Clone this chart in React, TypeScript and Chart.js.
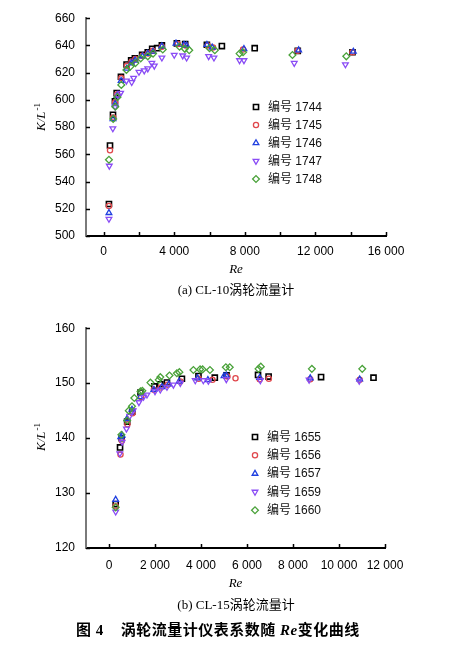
import React, { useEffect, useRef } from 'react';
import { Chart, registerables } from 'chart.js';
import { drawPoint } from 'chart.js/helpers';

Chart.register(...registerables);

// ---------------- (a) CL-10 turbine flow meter ----------------
const namesA = ['编号 1744', '编号 1745', '编号 1746', '编号 1747', '编号 1748'];

const reA1744 = [300, 360, 530, 640, 740, 980, 1300, 1560, 1770, 2180, 2500, 2750, 3030, 3300, 4150, 4620, 5850, 6700, 8560, 11000, 14100];
const kA1744 = [523.5, 566.5, 589, 599, 605, 617, 626, 629, 630.5, 633, 635, 637.5, 638, 640, 641.5, 641, 640.5, 639.5, 638, 636, 635];

const reA1745 = [300, 360, 540, 650, 760, 1000, 1320, 1580, 1800, 2200, 2520, 2780, 3300, 4200, 4650, 5900, 6200, 7900, 11000, 14100];
const kA1745 = [522, 563, 587, 598, 604, 616, 625, 628, 630, 632.5, 634, 636, 639, 641, 640, 640, 638.5, 637, 636, 635];

const reA1746 = [300, 530, 650, 760, 990, 1310, 1570, 1780, 2200, 2500, 2800, 3300, 4100, 4550, 4700, 5850, 6150, 7950, 11050, 14150];
const kA1746 = [517, 586, 597, 603, 614, 623, 627, 629, 632, 634, 635.5, 639.5, 641.5, 640.5, 640, 640.5, 638.5, 637.5, 636.5, 635.5];

const reA1747 = [300, 320, 520, 650, 820, 960, 1290, 1590, 1700, 2000, 2300, 2500, 2730, 2870, 3300, 4000, 4480, 4700, 5950, 6250, 7700, 7950, 10800, 13700];
const kA1747 = [512.5, 551.5, 579, 595, 603, 605, 614, 613, 616, 620.5, 621.5, 623, 627, 625, 631, 633, 632.5, 631, 632, 631, 629, 629, 627, 626];

const reA1748 = [300, 540, 660, 780, 1000, 1290, 1520, 1800, 2100, 2500, 2800, 3350, 4300, 4600, 4850, 6000, 6300, 7700, 7900, 10700, 13750];
const kA1748 = [556, 586, 595, 602, 611, 622, 624.5, 627, 630.5, 632, 634, 637, 639, 637.5, 636.5, 638, 636.5, 634, 635, 633, 632];

const xTicksA = [0, 2000, 4000, 6000, 8000, 10000, 12000, 14000, 16000];
const xLabelsA = [0, 4000, 8000, 12000, 16000];
const yTicksA = [500, 520, 540, 560, 580, 600, 620, 640, 660];

// ---------------- (b) CL-15 turbine flow meter ----------------
const namesB = ['编号 1655', '编号 1656', '编号 1657', '编号 1659', '编号 1660'];

const reB1655 = [290, 480, 550, 790, 1010, 1370, 1970, 2230, 2520, 3170, 3890, 4600, 5110, 6480, 6940, 9220, 11500];
const kB1655 = [128, 138.3, 140, 143, 144.8, 148.3, 149.4, 149.8, 150.1, 150.8, 151.3, 151, 151.4, 151.5, 151.2, 151.1, 151];

const reB1656 = [290, 500, 560, 800, 1020, 1400, 1950, 2250, 2550, 3100, 3900, 4500, 5150, 5500, 6550, 6950, 8750, 10900];
const kB1656 = [127.6, 137, 139.5, 142.5, 144.5, 147.5, 148.8, 149.2, 149.7, 150.3, 150.8, 150.6, 151.2, 150.9, 150.7, 150.8, 150.7, 150.6];

const reB1657 = [290, 510, 570, 780, 1000, 1350, 1950, 2300, 2600, 3050, 3850, 4300, 5000, 5100, 6550, 8750, 10900];
const kB1657 = [128.8, 140.2, 140.5, 143.5, 145.2, 147.5, 148.8, 149.3, 149.8, 150.3, 150.9, 150.6, 151.3, 151.4, 151, 150.9, 150.7];

const reB1659 = [290, 470, 570, 760, 900, 1050, 1300, 1500, 1650, 2000, 2230, 2520, 2800, 3100, 3750, 4100, 4320, 5100, 6580, 8700, 10880];
const kB1659 = [126.6, 137.2, 139.3, 141.7, 144, 145, 146.5, 147.5, 147.9, 148.5, 148.8, 149.3, 149.7, 150, 150.5, 150.5, 150.4, 150.7, 150.5, 150.6, 150.4];

const reB1660 = [290, 540, 790, 860, 1000, 1100, 1370, 1450, 1800, 2160, 2230, 2630, 2950, 3060, 3670, 3960, 4070, 4390, 5080, 5250, 6500, 6600, 8820, 11010];
const kB1660 = [127.4, 140.6, 143.2, 145, 145.8, 147.3, 148.5, 148.6, 150.1, 150.6, 151.1, 151.4, 151.8, 152, 152.4, 152.5, 152.5, 152.4, 152.9, 152.9, 152.6, 153, 152.6, 152.6];

const xTicksB = [0, 2000, 4000, 6000, 8000, 10000, 12000];
const xLabelsB = [0, 2000, 4000, 6000, 8000, 10000, 12000];
const yTicksB = [120, 130, 140, 150, 160];

// ---------------- styles ----------------
const MARKERS = [
  { color: '#000000', pointStyle: 'rect', radius: 3.6, rotation: 0, width: 1.6 },
  { color: '#e0474c', pointStyle: 'circle', radius: 2.6, rotation: 0, width: 1.3 },
  { color: '#1f3fe0', pointStyle: 'triangle', radius: 3.3, rotation: 0, width: 1.3 },
  { color: '#8a4cf5', pointStyle: 'triangle', radius: 3.3, rotation: 180, width: 1.3 },
  { color: '#4aa23a', pointStyle: 'rectRot', radius: 3.4, rotation: 0, width: 1.3 },
];

const SANS = "'Liberation Sans', Arial, 'Noto Sans CJK SC', sans-serif";
const SERIF = "'Liberation Serif', 'Times New Roman', 'Noto Sans CJK SC', serif";

const fmt = (v: number) => String(v).replace(/\B(?=(\d{3})+(?!\d))/g, ' ');

const decor = {
  id: 'decor',
  afterDraw(chart: any, _args: any, opts: any) {
    const ctx = chart.ctx as CanvasRenderingContext2D;
    const xs = chart.scales.x;
    const ys = chart.scales.y;
    const area = chart.chartArea;
    ctx.save();
    // inside tick marks
    ctx.strokeStyle = '#000';
    ctx.lineWidth = 1.5;
    ctx.beginPath();
    for (const t of xs.ticks) {
      const px = Math.round(xs.getPixelForValue(t.value)) + 0.5;
      ctx.moveTo(px, area.bottom);
      ctx.lineTo(px, area.bottom - 4);
    }
    for (const t of ys.ticks) {
      const py = Math.round(ys.getPixelForValue(t.value)) + 0.5;
      ctx.moveTo(area.left, py);
      ctx.lineTo(area.left + 4, py);
    }
    ctx.stroke();

    // y-axis title K/L^-1
    ctx.translate(opts.titleX, opts.titleY);
    ctx.rotate(-Math.PI / 2);
    ctx.fillStyle = '#000';
    ctx.textBaseline = 'middle';
    ctx.textAlign = 'left';
    const mainFont = `italic 13px ${SERIF}`;
    const supFont = `9px ${SERIF}`;
    ctx.font = mainFont;
    const w1 = ctx.measureText('K/L').width;
    ctx.font = supFont;
    const w2 = ctx.measureText('-1').width;
    const start = -(w1 + 1 + w2) / 2;
    ctx.font = mainFont;
    ctx.fillText('K/L', start, 0);
    ctx.font = supFont;
    ctx.fillText('-1', start + w1 + 1, -4);
    ctx.restore();

    // legend
    ctx.save();
    chart.data.datasets.forEach((ds: any, i: number) => {
      const y = opts.legendY + i * opts.legendDy;
      ctx.strokeStyle = ds.borderColor;
      ctx.fillStyle = 'rgba(0,0,0,0)';
      ctx.lineWidth = ds.pointBorderWidth;
      drawPoint(ctx, { pointStyle: ds.pointStyle, rotation: ds.rotation, radius: ds.pointRadius, borderWidth: ds.pointBorderWidth } as any, opts.legendX, y);
      ctx.fillStyle = '#111';
      ctx.font = `12px ${SANS}`;
      ctx.textBaseline = 'middle';
      ctx.textAlign = 'left';
      ctx.fillText(ds.label, opts.legendX + 12, y + 0.5);
    });
    ctx.restore();
  },
};

function makeDatasets(names: string[], res: number[][], ks: number[][]) {
  return names.map((name, i) => ({
    label: name,
    data: res[i].map((x, j) => ({ x, y: ks[i][j] })),
    showLine: false,
    pointStyle: MARKERS[i].pointStyle,
    rotation: MARKERS[i].rotation,
    pointRadius: MARKERS[i].radius,
    pointHoverRadius: MARKERS[i].radius,
    borderColor: MARKERS[i].color,
    backgroundColor: 'rgba(0,0,0,0)',
    pointBorderWidth: MARKERS[i].width,
    order: names.length - i,
  }));
}

type PanelCfg = {
  names: string[];
  res: number[][];
  ks: number[][];
  xMin: number;
  xMax: number;
  xTicks: number[];
  xLabels: number[];
  yMin: number;
  yMax: number;
  yTicks: number[];
  height: number;
  padRight: number;
  padTop: number;
  xHeight: number;
  xTickPad: number;
  xTitlePad: number;
  titleX: number;
  titleY: number;
  legendX: number;
  legendY: number;
  legendDy: number;
};

function buildConfig(c: PanelCfg): any {
  return {
    type: 'scatter',
    data: { datasets: makeDatasets(c.names, c.res, c.ks) },
    plugins: [decor],
    options: {
      animation: false,
      responsive: false,
      maintainAspectRatio: false,
      events: [],
      layout: { padding: { left: 0, right: c.padRight, top: c.padTop, bottom: 0 }, autoPadding: false },
      plugins: {
        legend: { display: false },
        tooltip: { enabled: false },
        decor: { titleX: c.titleX, titleY: c.titleY, legendX: c.legendX, legendY: c.legendY, legendDy: c.legendDy },
      },
      scales: {
        x: {
          type: 'linear',
          min: c.xMin,
          max: c.xMax,
          grid: { display: false, drawTicks: false },
          border: { display: true, color: '#000', width: 2 },
          afterFit: (s: any) => { s.height = c.xHeight; },
          afterBuildTicks: (s: any) => { s.ticks = c.xTicks.map((v) => ({ value: v })); },
          ticks: {
            padding: c.xTickPad,
            color: '#000',
            autoSkip: false,
            maxRotation: 0,
            font: { family: SANS, size: 12 },
            callback: (v: number) => (c.xLabels.includes(v) ? fmt(v) : ''),
          },
          title: {
            display: true,
            text: 'Re',
            color: '#000',
            font: { family: SERIF, style: 'italic', size: 13 },
            padding: { top: 0, bottom: c.xTitlePad },
          },
        },
        y: {
          type: 'linear',
          min: c.yMin,
          max: c.yMax,
          grid: { display: false, drawTicks: false },
          border: { display: true, color: '#7a7a7a', width: 2 },
          afterFit: (s: any) => { s.width = 86; },
          afterBuildTicks: (s: any) => { s.ticks = c.yTicks.map((v) => ({ value: v })); },
          ticks: {
            padding: 11,
            color: '#000',
            font: { family: SANS, size: 12 },
            callback: (v: number) => String(v),
          },
        },
      },
    },
  };
}

const panelA: PanelCfg = {
  names: namesA,
  res: [reA1744, reA1745, reA1746, reA1747, reA1748],
  ks: [kA1744, kA1745, kA1746, kA1747, kA1748],
  xMin: -1000, xMax: 16000, xTicks: xTicksA, xLabels: xLabelsA,
  yMin: 500, yMax: 660, yTicks: yTicksA,
  height: 300, padRight: 65, padTop: 14, xHeight: 64, xTickPad: 8, xTitlePad: 23,
  titleX: 42, titleY: 117,
  legendX: 256, legendY: 107, legendDy: 18,
};

const panelB: PanelCfg = {
  names: namesB,
  res: [reB1655, reB1656, reB1657, reB1659, reB1660],
  ks: [kB1655, kB1656, kB1657, kB1659, kB1660],
  xMin: -1000, xMax: 12000, xTicks: xTicksB, xLabels: xLabelsB,
  yMin: 120, yMax: 160, yTicks: yTicksB,
  height: 300, padRight: 66, padTop: 14, xHeight: 62, xTickPad: 10, xTitlePad: 19,
  titleX: 42, titleY: 127,
  legendX: 255, legendY: 127, legendDy: 18.3,
};

function Panel({ cfg, top }: { cfg: PanelCfg; top: number }) {
  const ref = useRef<HTMLCanvasElement>(null);
  useEffect(() => {
    const chart = new Chart(ref.current as HTMLCanvasElement, buildConfig(cfg));
    return () => chart.destroy();
  }, [cfg]);
  return (
    <canvas
      ref={ref}
      width={451}
      height={cfg.height}
      style={{ position: 'absolute', left: 0, top, width: 451, height: cfg.height }}
    />
  );
}

const subStyle: React.CSSProperties = {
  position: 'absolute',
  left: 136,
  width: 200,
  textAlign: 'center',
  fontFamily: SERIF,
  fontSize: 13,
  lineHeight: '16px',
  color: '#000',
  whiteSpace: 'nowrap',
};

export default function App() {
  return (
    <div style={{ position: 'absolute', left: 0, top: 0, width: 451, height: 645, background: '#fff', overflow: 'hidden' }}>
      <Panel cfg={panelA} top={0} />
      <div style={{ ...subStyle, top: 282 }}>(a) CL-10涡轮流量计</div>
      <Panel cfg={panelB} top={310} />
      <div style={{ ...subStyle, top: 597 }}>(b) CL-15涡轮流量计</div>
      <div
        style={{
          position: 'absolute',
          left: 76,
          top: 621,
          fontFamily: SERIF,
          fontSize: 15,
          lineHeight: '18px',
          fontWeight: 'bold',
          letterSpacing: '0.5px',
          color: '#000',
          whiteSpace: 'nowrap',
        }}
      >
        <span>图 4</span>
        <span style={{ display: 'inline-block', width: 17 }} />
        <span>涡轮流量计仪表系数随 </span>
        <span style={{ fontStyle: 'italic' }}>Re</span>
        <span>变化曲线</span>
      </div>
    </div>
  );
}
